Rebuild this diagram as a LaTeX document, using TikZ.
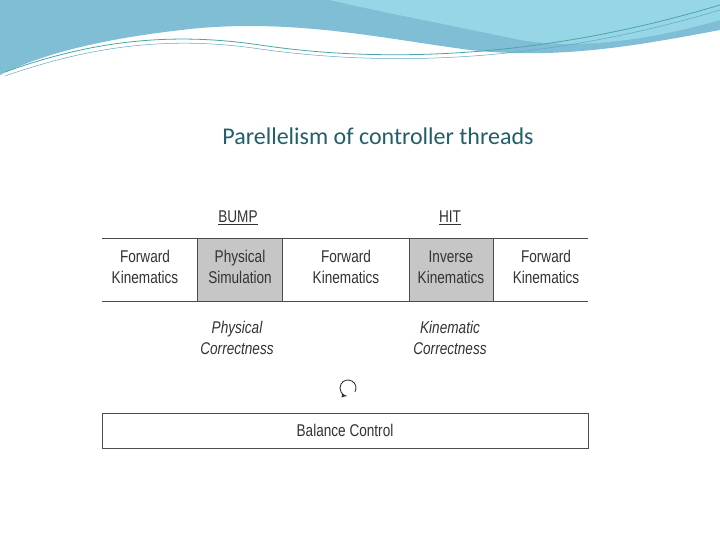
\documentclass[tikz,border=0pt]{standalone}
\usepackage{fontspec}
\setmainfont{Liberation Sans}
\newfontfamily\titlefont{Carlito}
\definecolor{band}{RGB}{128,190,214}
\definecolor{bandlight}{RGB}{150,214,230}
\definecolor{titlecol}{RGB}{35,95,105}
\begin{document}
\begin{tikzpicture}[x=1pt,y=-1pt,
  cell/.style={font=\fontsize{17}{21}\selectfont, align=center, text=black!80},
  lab/.style={font=\fontsize{17}{21}\selectfont\itshape, align=center, text=black!80},
  hdr/.style={font=\fontsize{17}{21}\selectfont, text=black!80}]
\useasboundingbox (0,0) rectangle (720,540);
\fill[white] (0,0) rectangle (720,540);
% header waves
\fill[band] (0,0) -- (720,0) -- (720,30) .. controls (640,45) and (560,60) .. (470,50) .. controls (380,38) and (300,20) .. (200,28) .. controls (100,38) and (40,55) .. (0,75) -- cycle;
\fill[bandlight] (330,0) -- (720,0) -- (720,20) .. controls (650,40) and (580,50) .. (520,40) .. controls (450,25) and (380,12) .. (330,0) -- cycle;
\draw[teal!70, line width=0.8] (5,72) .. controls (80,45) and (160,30) .. (260,45) .. controls (360,60) and (520,65) .. (720,5);
\draw[cyan!50!gray, line width=0.5] (5,76) .. controls (80,50) and (160,34) .. (260,49) .. controls (360,63) and (520,70) .. (720,10);
\node[font=\titlefont\fontsize{24}{28}\selectfont, text=titlecol] (title) at (378,136) {Parellelism of controller threads};
% table
\fill[gray!45] (197,238) rectangle (282,301);
\fill[gray!45] (409,238) rectangle (493,301);
\draw[black!70, line width=1] (102,238) -- (588,238) (102,301) -- (588,301);
\foreach \x in {197,282,409,493} \draw[black!70, line width=1] (\x,238) -- (\x,301);
\node[hdr] (bump) at (238,218) {\scalebox{0.8}[1]{\underline{BUMP}}};
\node[hdr] (hit) at (450,218) {\scalebox{0.8}[1]{\underline{HIT}}};
\node[cell] (c1) at (145,267) {\scalebox{0.8}[1]{Forward}\\\scalebox{0.8}[1]{Kinematics}};
\node[cell] (c2) at (240,267) {\scalebox{0.8}[1]{Physical}\\\scalebox{0.8}[1]{Simulation}};
\node[cell] (c3) at (346,267) {\scalebox{0.8}[1]{Forward}\\\scalebox{0.8}[1]{Kinematics}};
\node[cell] (c4) at (451,267) {\scalebox{0.8}[1]{Inverse}\\\scalebox{0.8}[1]{Kinematics}};
\node[cell] (c5) at (546,267) {\scalebox{0.8}[1]{Forward}\\\scalebox{0.8}[1]{Kinematics}};
\node[lab] (pc) at (237,338) {\scalebox{0.8}[1]{Physical}\\\scalebox{0.8}[1]{Correctness}};
\node[lab] (kc) at (450,338) {\scalebox{0.8}[1]{Kinematic}\\\scalebox{0.8}[1]{Correctness}};
\coordinate (loop) at (348,388);
\draw[black!80, line width=0.9, -latex] ([shift={(30:8)}]loop) arc[start angle=30, end angle=-265, radius=8];
\node[draw=black!70, line width=1, minimum width=486, minimum height=35, cell] (bc) at (345,430.5) {\scalebox{0.8}[1]{Balance Control}};
\end{tikzpicture}
\end{document}
